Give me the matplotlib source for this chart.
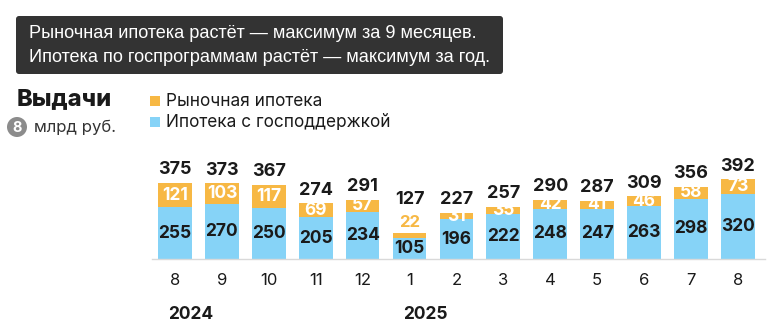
import matplotlib
matplotlib.use("Agg")
import matplotlib.pyplot as plt
from matplotlib.patches import FancyBboxPatch, Rectangle, Circle

# Monthly mortgage issuance, bn rubles
months = ["8", "9", "10", "11", "12", "1", "2", "3", "4", "5", "6", "7", "8"]
years = {"2024": 0, "2025": 5}  # year label -> index of its first month
state_backed = [255, 270, 250, 205, 234, 105, 196, 222, 248, 247, 263, 298, 320]
market = [121, 103, 117, 69, 57, 22, 31, 35, 42, 41, 46, 58, 73]
totals = [375, 373, 367, 274, 291, 127, 227, 257, 290, 287, 309, 356, 392]

ORANGE = "#F7B844"
BLUE = "#86D3F7"
DARK = "#1a1a1a"
FONT = ["Inter", "DejaVu Sans"]

W, H = 771, 336
fig = plt.figure(figsize=(W / 100, H / 100), dpi=100)
fig.patch.set_facecolor("white")

# header layer in pixel coordinates
hdr = fig.add_axes([0, 0, 1, 1])
hdr.set_xlim(0, W)
hdr.set_ylim(H, 0)
hdr.axis("off")

hdr.add_patch(FancyBboxPatch((16, 16), 487, 58,
                             boxstyle="round,pad=0,rounding_size=3",
                             facecolor="#333333", edgecolor="none"))
hdr.text(29, 34, "Рыночная ипотека растёт — максимум за 9 месяцев.",
         color="white", fontsize=13.1, family="Liberation Sans", va="center")
hdr.text(29, 58, "Ипотека по госпрограммам растёт — максимум за год.",
         color="white", fontsize=13.1, family="Liberation Sans", va="center")

hdr.text(17, 99, "Выдачи", fontsize=17, fontweight="heavy", family=FONT,
         color=DARK, va="center")
hdr.add_patch(Circle((17, 127), 10, facecolor="#8c8c8c", edgecolor="none"))
hdr.text(17, 127.5, "8", fontsize=10.5, color="white", family=FONT,
         ha="center", va="center", fontweight="bold")
hdr.text(34, 127, "млрд руб.", fontsize=12, family=FONT, color="#333333",
         va="center")

hdr.add_patch(Rectangle((150, 96), 10, 10, facecolor=ORANGE, edgecolor="none"))
hdr.text(166, 101, "Рыночная ипотека", fontsize=12.4, family=FONT,
         color=DARK, va="center")
hdr.add_patch(Rectangle((150, 117), 10, 10, facecolor=BLUE, edgecolor="none"))
hdr.text(166, 122, "Ипотека с господдержкой", fontsize=12.4, family=FONT,
         color=DARK, va="center")

# bar chart
ax = fig.add_axes([152 / W, 1 - 259 / H, (765 - 152) / W, 109 / H])
ax.set_facecolor("none")
x = list(range(len(months)))
ax.bar(x, state_backed, width=0.72, color=BLUE, edgecolor="none")
ax.bar(x, market, bottom=state_backed, width=0.72, color=ORANGE,
       edgecolor="none")
ax.set_xlim(-0.49, 12.58)
ax.set_ylim(0, 538)

for i in x:
    ax.text(i, state_backed[i] / 2, str(state_backed[i]), ha="center",
            va="center", fontsize=12.5, fontweight="bold", color=DARK,
            family=FONT)
    top = state_backed[i] + market[i]
    if market[i] < 30:
        # segment too thin: label sits above it in its own colour
        ax.annotate(str(market[i]), (i, top), xytext=(0, 2),
                    textcoords="offset points", ha="center", va="bottom",
                    fontsize=12, fontweight="bold", color=ORANGE,
                    family=FONT)
        ax.annotate(str(totals[i]), (i, top), xytext=(0, 18),
                    textcoords="offset points", ha="center", va="bottom",
                    fontsize=13, fontweight="bold", color=DARK, family=FONT)
    else:
        ax.text(i, state_backed[i] + market[i] / 2, str(market[i]),
                ha="center", va="center", fontsize=12.5, fontweight="bold",
                color="white", family=FONT)
        ax.annotate(str(totals[i]), (i, top), xytext=(0, 3.5),
                    textcoords="offset points", ha="center", va="bottom",
                    fontsize=13, fontweight="bold", color=DARK, family=FONT)

for s in ["top", "right", "left"]:
    ax.spines[s].set_visible(False)
ax.spines["bottom"].set_color("#d9d9d9")
ax.spines["bottom"].set_linewidth(1)
ax.set_yticks([])
ax.set_xticks(x)
ax.set_xticklabels(months, fontsize=12, family=FONT, color=DARK)
ax.tick_params(axis="x", length=0, pad=10)

for label, idx in years.items():
    ax.annotate(label, (idx - 0.14, 0), xytext=(0, -40),
                textcoords="offset points", ha="left", va="center",
                fontsize=12.5, fontweight="bold", color=DARK, family=FONT)

fig.savefig("out.png", dpi=100, facecolor="white")
